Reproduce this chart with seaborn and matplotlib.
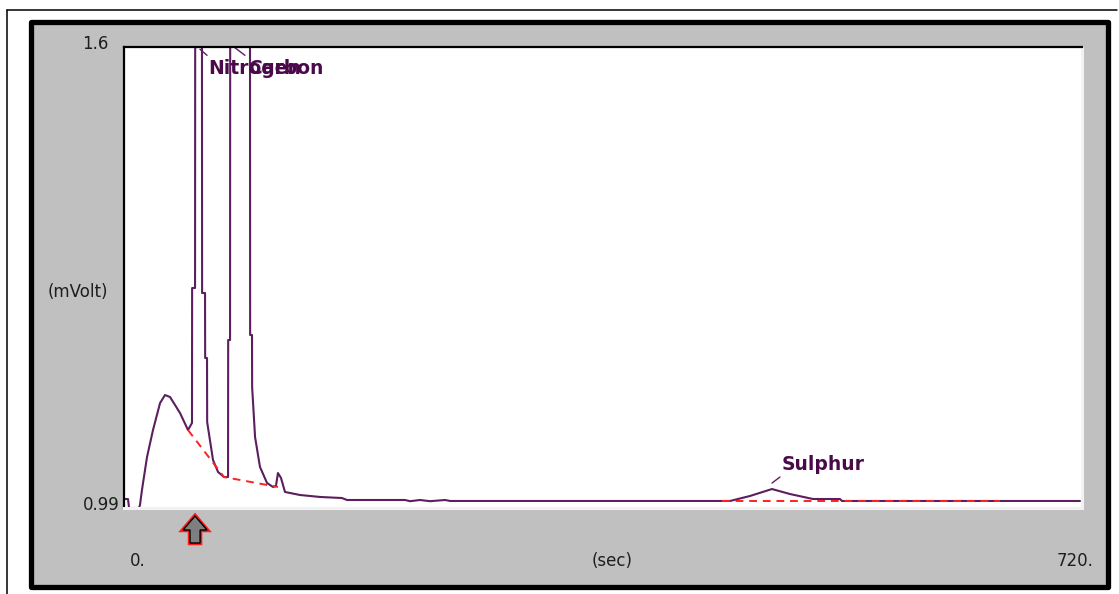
import numpy as np
import pandas as pd
import matplotlib.pyplot as plt
import seaborn as sns
from matplotlib.patches import Rectangle, Polygon
from matplotlib.lines import Line2D
from matplotlib.transforms import blended_transform_factory

# ── Chromatogram trace ───────────────────────────────────────────────────────
time_s = [0.75, 3.0, 3.8, 11.3, 12.0, 13.5, 17.3, 21.8, 27.1, 30.8, 34.6, 42.1,
          48.1, 51.1, 51.2, 53.4, 53.5, 58.6, 58.7, 60.9, 61.0, 62.4, 62.5,
          66.9, 70.7, 75.2, 78.2, 78.3, 79.7, 79.8, 94.7, 94.8, 96.2, 96.3,
          98.5, 102.2, 107.5, 112.0, 114.2, 115.7, 118.0, 121.0, 132.3, 147.3,
          163.8, 167.6, 211.2, 215.0, 222.5, 230.0, 241.3, 245.0, 455.5, 470.5,
          487.0, 500.5, 517.8, 538.1, 539.6, 718.5]
signal_mv = [1.0019, 1.0019, 0.990, 0.990, 0.994, 1.0138, 1.0575, 1.0932, 1.1289,
             1.1395, 1.1369, 1.1157, 1.0932, 1.1025, 1.2811, 1.2811, 1.60, 1.60,
             1.2745, 1.2745, 1.1885, 1.1885, 1.1038, 1.0535, 1.0376, 1.0310,
             1.0310, 1.2123, 1.2123, 1.60, 1.60, 1.2189, 1.2189, 1.1501, 1.0839,
             1.0443, 1.0231, 1.0178, 1.0191, 1.0363, 1.0297, 1.0112, 1.0072,
             1.0046, 1.0032, 1.0006, 1.0006, 0.9990, 1.0006, 0.9990, 1.0006,
             0.9993, 0.9993, 1.0059, 1.0151, 1.0085, 1.0019, 1.0019, 0.9993,
             0.9993]

# integration baselines (red dashed)
base1_t = [48.1, 75.2, 115.7]
base1_v = [1.0932, 1.0310, 1.0178]
base2_t = [449.4, 658.4]
base2_v = [0.9993, 0.9993]

# peak names and their label anchors
peak_names = ["Nitrogen", "Carbon", "Sulphur"]
label_t = [63.1, 93.2, 494.5]
label_v = [1.572, 1.572, 1.047]
leader_t = [(57.1, 62.4), (83.4, 90.9), (487.0, 493.0)]
leader_v = [(1.597, 1.589), (1.599, 1.589), (1.023, 1.031)]

inject_t = 53.4
x_range = (0, 720)
y_range = (0.99, 1.6)
x_tick_labels = ["0.", "720."]
y_tick_labels = ["0.99", "1.6"]

TRACE = "#5b1f5f"
LABEL = "#4a0a4a"
PANEL = "#c0c0c0"
TXT = "#1e1e1e"

sns.set_style("white")
plt.rcParams["font.family"] = ["DejaVu Sans"]

W, H = 1119, 594
fig = plt.figure(figsize=(W / 100, H / 100), dpi=100)
fig.patch.set_facecolor("white")


def fx(px):
    return px / W


def fy(py):
    return 1 - py / H


# ── window chrome ────────────────────────────────────────────────────────────
fig.add_artist(Line2D([fx(6.5), fx(6.5)], [fy(594), fy(9.5)], color="black",
                      lw=1.1, zorder=-3))
fig.add_artist(Line2D([fx(6.5), fx(1117)], [fy(9.5), fy(9.5)], color="black",
                      lw=1.1, zorder=-3))
frame = Rectangle((fx(30.5), fy(586.5)), fx(1107.5) - fx(30.5), fy(21.5) - fy(586.5),
                  transform=fig.transFigure, facecolor=PANEL, edgecolor="black",
                  lw=3.8, joinstyle="round", zorder=-2)
fig.add_artist(frame)

# ── plot area ────────────────────────────────────────────────────────────────
ax = fig.add_axes([fx(124), fy(508), fx(1082) - fx(124), fy(47) - fy(508)])
ax.set_facecolor("white")

trace = pd.DataFrame({"time": time_s, "signal": signal_mv})
sns.lineplot(data=trace, x="time", y="signal", ax=ax, color=TRACE, lw=1.5,
             estimator=None, sort=False)
sns.lineplot(x=base1_t, y=base1_v, ax=ax, color="#ff2020", lw=1.4,
             linestyle=(0, (4, 3)), estimator=None, sort=False)
sns.lineplot(x=base2_t, y=base2_v, ax=ax, color="#ff2020", lw=1.4,
             linestyle=(0, (4, 3)), estimator=None, sort=False)

# labels overlap on purpose: the reference prints Nitrogen and Carbon on top of each other
for name, t, v, lt, lv in zip(peak_names, label_t, label_v, leader_t, leader_v):
    ax.plot(lt, lv, color=TRACE, lw=1.0)
    ax.text(t, v, name, color=LABEL, fontsize=13.5, fontweight="bold",
            ha="left", va="center")

ax.set_xlim(*x_range)
ax.set_ylim(*y_range)
ax.set_xticks([])
ax.set_yticks([])
ax.set_xlabel("")
ax.set_ylabel("")
for side in ["top", "left"]:
    ax.spines[side].set_color("black")
    ax.spines[side].set_linewidth(1.6)
for side in ["right", "bottom"]:
    ax.spines[side].set_color("#f2f2f2")
    ax.spines[side].set_linewidth(2.2)

# injection marker arrow under the axis
tr = blended_transform_factory(ax.transData, fig.transFigure)
arrow_pts = [(inject_t, fy(516)), (inject_t + 9.0, fy(530)), (inject_t + 3.8, fy(530)),
             (inject_t + 3.8, fy(543)), (inject_t - 3.8, fy(543)),
             (inject_t - 3.8, fy(530)), (inject_t - 9.0, fy(530))]
ax.add_patch(Polygon(arrow_pts, closed=True, transform=tr, facecolor="#7f7f7f",
                     edgecolor="#ff1a1a", lw=3.2, joinstyle="miter", clip_on=False))
ax.add_patch(Polygon(arrow_pts, closed=True, transform=tr, facecolor="#7f7f7f",
                     edgecolor="black", lw=1.0, joinstyle="miter", clip_on=False))

# ── axis texts ───────────────────────────────────────────────────────────────
fig.text(fx(108), fy(44), y_tick_labels[1], ha="right", va="center", fontsize=12, color=TXT)
fig.text(fx(120), fy(505), y_tick_labels[0], ha="right", va="center", fontsize=12, color=TXT)
fig.text(fx(108), fy(292), "(mVolt)", ha="right", va="center", fontsize=12, color=TXT)
fig.text(fx(138), fy(561), x_tick_labels[0], ha="center", va="center", fontsize=12, color=TXT)
fig.text(fx(612), fy(561), "(sec)", ha="center", va="center", fontsize=12, color=TXT)
fig.text(fx(1075), fy(561), x_tick_labels[1], ha="center", va="center", fontsize=12, color=TXT)

fig.savefig("out.png", dpi=100, facecolor="white")
